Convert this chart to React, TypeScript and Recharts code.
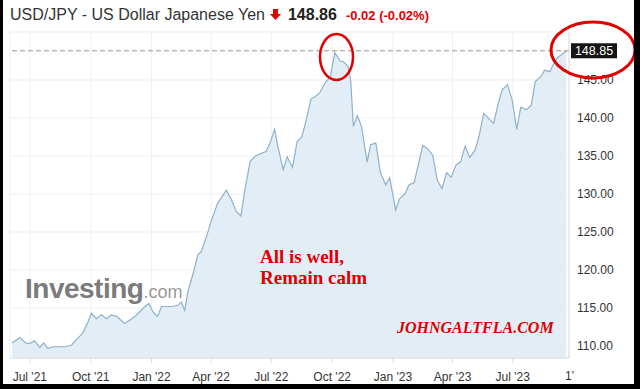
import React from "react";
import {
  Area,
  AreaChart,
  CartesianGrid,
  ReferenceLine,
  XAxis,
  YAxis,
} from "recharts";

const dates = [
  "2021-06-04", "2021-06-16", "2021-06-26",
  "2021-07-03", "2021-07-08", "2021-07-16", "2021-07-22", "2021-07-28",
  "2021-08-07", "2021-08-23",
  "2021-09-02", "2021-09-09", "2021-09-19", "2021-09-27",
  "2021-10-02", "2021-10-10", "2021-10-17", "2021-10-25",
  "2021-11-01", "2021-11-09", "2021-11-21", "2021-11-29",
  "2021-12-07", "2021-12-14", "2021-12-22", "2021-12-28",
  "2022-01-03", "2022-01-10", "2022-01-16",
  "2022-02-02", "2022-02-10", "2022-02-15", "2022-02-20", "2022-02-25",
  "2022-03-05", "2022-03-12", "2022-03-17", "2022-03-25",
  "2022-04-01", "2022-04-11", "2022-04-24",
  "2022-05-02", "2022-05-09", "2022-05-16", "2022-05-22", "2022-05-30",
  "2022-06-07", "2022-06-17", "2022-06-23", "2022-06-29",
  "2022-07-06", "2022-07-11", "2022-07-19", "2022-07-25",
  "2022-08-02", "2022-08-09", "2022-08-16", "2022-08-21", "2022-08-30",
  "2022-09-05", "2022-09-12", "2022-09-20", "2022-09-28",
  "2022-10-05", "2022-10-13", "2022-10-18", "2022-10-25", "2022-10-29",
  "2022-11-02", "2022-11-08", "2022-11-14", "2022-11-23", "2022-11-28",
  "2022-12-06", "2022-12-13", "2022-12-21", "2022-12-27",
  "2023-01-05", "2023-01-11", "2023-01-19", "2023-01-25",
  "2023-02-02", "2023-02-15", "2023-02-23",
  "2023-03-02", "2023-03-09", "2023-03-16", "2023-03-23", "2023-03-30",
  "2023-04-06", "2023-04-13", "2023-04-20", "2023-04-27",
  "2023-05-05", "2023-05-11", "2023-05-18",
  "2023-06-02", "2023-06-09", "2023-06-15", "2023-06-23", "2023-06-30",
  "2023-07-07", "2023-07-13", "2023-07-22", "2023-07-29",
  "2023-08-04", "2023-08-13", "2023-08-18", "2023-08-26", "2023-08-31",
  "2023-09-06", "2023-09-12", "2023-09-20",
];

const closes = [
  110.4, 111.1, 110.3,
  110.4, 110.7, 109.8, 110.4, 109.7,
  109.9, 109.9,
  110.1, 110.8, 111.7, 113.2,
  114.3, 113.6, 114.1, 113.6,
  114.1, 113.9, 113.0, 113.4,
  113.9, 114.5, 115.2, 115.6,
  114.5, 113.9, 115.2,
  115.2, 115.4, 115.8, 114.7, 117.2,
  119.6, 122.0, 122.4, 124.4,
  126.4, 128.8, 130.5,
  129.2, 127.7, 127.1, 130.5, 134.3,
  135.0, 135.4, 135.6, 136.7,
  138.5, 136.2, 133.2, 134.9,
  133.5, 136.9, 137.5, 139.1, 142.5,
  142.8, 143.3, 144.6, 145.4,
  148.6, 147.5, 147.4, 146.8, 145.0,
  138.9, 140.3, 139.0, 134.2, 136.5,
  136.7, 132.8, 131.2, 132.1,
  127.9, 129.4, 130.0, 131.2,
  131.5, 136.4, 135.9,
  135.1, 131.8, 130.7, 132.8, 132.2,
  133.8, 134.2, 136.3, 134.8,
  135.8, 137.6, 140.6,
  139.3, 141.9, 143.7, 144.4, 142.4,
  138.5, 141.4, 141.1, 141.7,
  144.8, 145.5, 146.3, 146.1, 147.0,
  147.9, 148.3, 148.85,
];

const tickDates = [
  "2021-07-01", "2021-10-01", "2022-01-01", "2022-04-01", "2022-07-01",
  "2022-10-01", "2023-01-01", "2023-04-01", "2023-07-01",
];
const tickLabels = [
  "Jul '21", "Oct '21", "Jan '22", "Apr '22", "Jul '22",
  "Oct '22", "Jan '23", "Apr '23", "Jul '23",
];
const priceTicks = [110, 115, 120, 125, 130, 135, 140, 145];
const lastPrice = 148.85;

const DAY = 86400000;
const toDay = (d: string) => Date.parse(`${d}T00:00:00Z`) / DAY;

const data = dates.map((d, i) => ({ t: toDay(d), v: closes[i] }));
const xTicks = tickDates.map(toDay);

const font = '"Liberation Sans", Arial, sans-serif';
const serif = '"Liberation Serif", "Times New Roman", serif';
const red = "#e00000";

function PriceTag(props: any) {
  const vb = props.viewBox ?? {};
  const x = (vb.x ?? 0) + (vb.width ?? 0) + 2;
  const y = vb.y ?? 0;
  return (
    <g>
      <rect x={x} y={y - 7.5} width={46} height={15} fill="#151515" />
      <text
        x={x + 23}
        y={y + 4.5}
        textAnchor="middle"
        fill="#fff"
        fontSize={12.5}
        fontFamily={font}
      >
        {lastPrice.toFixed(2)}
      </text>
    </g>
  );
}

export default function App() {
  return (
    <div
      style={{
        position: "absolute",
        left: 0,
        top: 0,
        width: 640,
        height: 389,
        background: "#fff",
        overflow: "hidden",
        fontFamily: font,
      }}
    >
      <div
        style={{
          position: "absolute",
          left: 10,
          top: 6,
          whiteSpace: "nowrap",
          fontSize: 16,
          color: "#333",
          display: "flex",
          alignItems: "baseline",
        }}
      >
        <span>USD/JPY - US Dollar Japanese Yen</span>
        <svg width={12} height={12} style={{ marginLeft: 5, marginRight: 6 }}>
          <polygon points="3,1 8,1 8,6 11,6 5.5,12 0,6 3,6" fill={red} />
        </svg>
        <span style={{ fontWeight: 700, fontSize: 16, color: "#222" }}>148.86</span>
        <span style={{ fontWeight: 700, fontSize: 13, color: red, marginLeft: 9 }}>
          -0.02 (-0.02%)
        </span>
      </div>

      <div style={{ position: "absolute", left: 0, top: 0 }}>
        <AreaChart
          width={640}
          height={389}
          data={data}
          margin={{ top: 32, right: 0, bottom: 0, left: 10 }}
        >
          <CartesianGrid stroke="#efefef" />
          <XAxis
            dataKey="t"
            type="number"
            domain={[toDay("2021-06-01"), toDay("2023-09-24")]}
            ticks={xTicks}
            tickFormatter={(v: number) => tickLabels[xTicks.indexOf(v)] ?? ""}
            tick={{ fill: "#333", fontSize: 12, fontFamily: font }}
            axisLine={{ stroke: "#ddd" }}
            tickLine={{ stroke: "#ddd" }}
            tickSize={5}
            tickMargin={9}
            height={31}
            interval={0}
          />
          <YAxis
            orientation="right"
            domain={[108.42, 151.32]}
            ticks={priceTicks}
            tickFormatter={(v: number) => v.toFixed(2)}
            tick={{ fill: "#333", fontSize: 12, fontFamily: font }}
            axisLine={{ stroke: "#ddd" }}
            tickLine={false}
            width={71}
            allowDataOverflow
          />
          <ReferenceLine
            y={lastPrice}
            stroke="#a88f8f"
            strokeDasharray="5 3"
            label={<PriceTag />}
          />
          <Area
            type="linear"
            dataKey="v"
            stroke="#8fb1c9"
            strokeWidth={1.2}
            fill="#e3edf5"
            fillOpacity={1}
            isAnimationActive={false}
            dot={false}
            activeDot={false}
          />
        </AreaChart>
      </div>

      <svg
        width={640}
        height={389}
        style={{ position: "absolute", left: 0, top: 0, pointerEvents: "none" }}
      >
        <text x={565} y={380} fontSize={12} fill="#333" fontFamily={font}>
          1'
        </text>
        <text
          x={25}
          y={298}
          fontSize={28}
          fontWeight={700}
          fill="#7b7b7b"
          fontFamily={font}
          letterSpacing={-0.5}
        >
          Investing
          <tspan fontSize={18} fontWeight={400} fill="#9a9a9a" letterSpacing={0}>
            .com
          </tspan>
        </text>
        <text x={260} y={263} fontSize={19} fontWeight={700} fill={red} fontFamily={serif}>
          All is well,
        </text>
        <text x={260} y={284} fontSize={19} fontWeight={700} fill={red} fontFamily={serif}>
          Remain calm
        </text>
        <text
          x={397}
          y={333}
          fontSize={16}
          fontWeight={700}
          fontStyle="italic"
          fill={red}
          fontFamily={serif}
        >
          JOHNGALTFLA.COM
        </text>
        <ellipse cx={336.5} cy={57} rx={16.5} ry={23} fill="none" stroke={red} strokeWidth={2.5} />
        <ellipse cx={593} cy={50} rx={42} ry={28} fill="none" stroke={red} strokeWidth={3} />
      </svg>

      <div
        style={{
          position: "absolute",
          left: 0,
          top: 0,
          width: 640,
          height: 389,
          boxSizing: "border-box",
          borderLeft: "3px solid #000",
          borderRight: "6px solid #000",
          borderBottom: "5px solid #000",
          pointerEvents: "none",
        }}
      />
    </div>
  );
}
